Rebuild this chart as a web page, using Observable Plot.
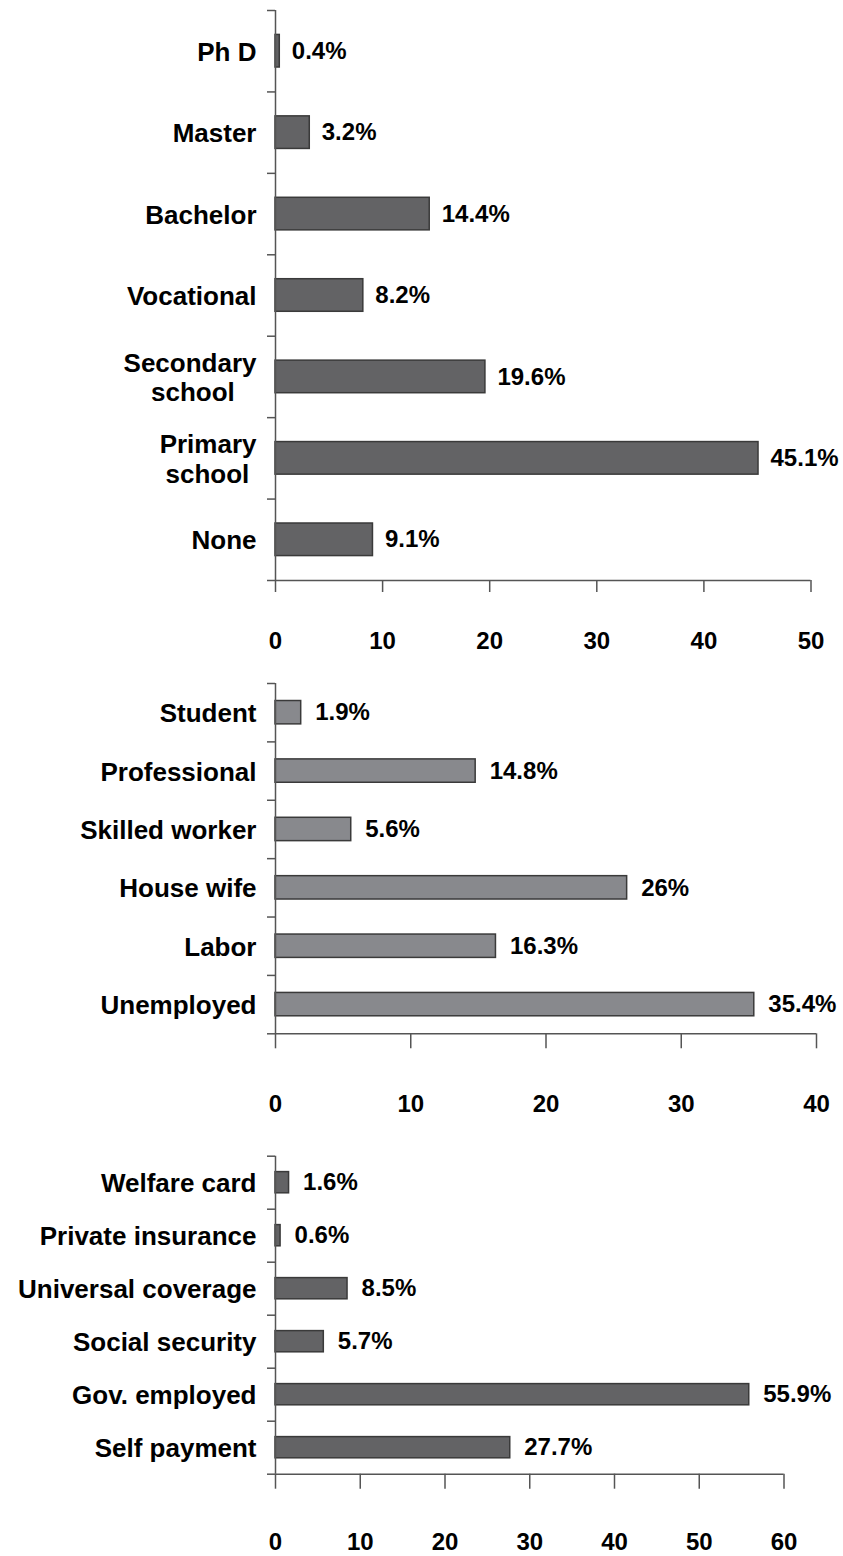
<!DOCTYPE html>
<html>
<head>
<meta charset="utf-8">
<script src="https://cdn.jsdelivr.net/npm/d3@7"></script>
<script src="https://cdn.jsdelivr.net/npm/@observablehq/plot@0.6"></script>
<style>
  html, body { margin: 0; padding: 0; background: #fff; }
  #chart { width: 843px; height: 1556px; position: relative; }
  #chart svg { display: block; }
</style>
</head>
<body>
<div id="chart"></div>
<script>
// ---- Data ----
const eduCategories = ["Ph D", "Master", "Bachelor", "Vocational", "Secondary school", "Primary school", "None"];
const eduLabels = ["Ph D", "Master", "Bachelor", "Vocational", "Secondary\nschool\u00a0\u00a0\u00a0", "Primary\nschool\u00a0", "None"];
const eduValues = [0.4, 3.2, 14.4, 8.2, 19.6, 45.1, 9.1];
const eduTicks = [0, 10, 20, 30, 40, 50];

const occCategories = ["Student", "Professional", "Skilled worker", "House wife", "Labor", "Unemployed"];
const occValues = [1.9, 14.8, 5.6, 26, 16.3, 35.4];
const occTicks = [0, 10, 20, 30, 40];

const payCategories = ["Welfare card", "Private insurance", "Universal coverage", "Social security", "Gov. employed", "Self payment"];
const payValues = [1.6, 0.6, 8.5, 5.7, 55.9, 27.7];
const payTicks = [0, 10, 20, 30, 40, 50, 60];

const FONT = "'Liberation Sans', Arial, Helvetica, sans-serif";

function panel({labels, values, ticks, height, marginTop, marginBottom, marginRight,
                fill, tickSize, tickPadding, valueDx}) {
  const n = labels.length;
  const data = labels.map((label, i) => ({label, value: values[i], i}));
  return Plot.plot({
    width: 843,
    height,
    marginLeft: 275,
    marginRight,
    marginTop,
    marginBottom,
    style: {fontFamily: FONT, background: "white", color: "black"},
    x: {domain: [0, d3.max(ticks)], axis: null, label: null},
    y: {domain: [0, n], reverse: true, axis: null, label: null},
    marks: [
      Plot.rectX(data, {
        x1: 0, x2: "value",
        y1: d => d.i + 0.3, y2: d => d.i + 0.7,
        fill, stroke: "#3a3a3a", strokeWidth: 1.5
      }),
      Plot.ruleX([0], {stroke: "#555", strokeWidth: 1.5}),
      Plot.ruleY([n], {stroke: "#555", strokeWidth: 1.5}),
      Plot.axisY(d3.range(n + 1), {
        anchor: "left", tickSize: 8, tickFormat: () => "", label: null,
        stroke: "#555", strokeWidth: 1.5
      }),
      Plot.axisX(ticks, {
        anchor: "bottom", tickSize, tickPadding, label: null,
        stroke: "#555", strokeWidth: 1.5,
        fontSize: 24, fontWeight: "bold", fill: "black"
      }),
      Plot.text(data, {
        x: 0, y: d => d.i + 0.5, text: "label",
        textAnchor: "end", dx: -19, lineHeight: 1.15,
        fontSize: 26, fontWeight: "bold", fill: "black"
      }),
      Plot.text(data, {
        x: "value", y: d => d.i + 0.5, text: d => `${d.value}%`,
        textAnchor: "start", dx: valueDx,
        fontSize: 24, fontWeight: "bold", fill: "black"
      })
    ]
  });
}

const root = document.getElementById("chart");

root.appendChild(panel({
  labels: eduLabels, values: eduValues, ticks: eduTicks,
  height: 680, marginTop: 10, marginBottom: 100, marginRight: 32.5,
  fill: "#636365", tickSize: 12, tickPadding: 39.4, valueDx: 12
}));

root.appendChild(panel({
  labels: occCategories, values: occValues, ticks: occTicks,
  height: 470, marginTop: 3, marginBottom: 116.7, marginRight: 27,
  fill: "#88898d", tickSize: 15, tickPadding: 46.4, valueDx: 14
}));

root.appendChild(panel({
  labels: payCategories, values: payValues, ticks: payTicks,
  height: 406, marginTop: 5.7, marginBottom: 82.3, marginRight: 59.5,
  fill: "#636365", tickSize: 15, tickPadding: 43.7, valueDx: 14
}));
</script>
</body>
</html>
